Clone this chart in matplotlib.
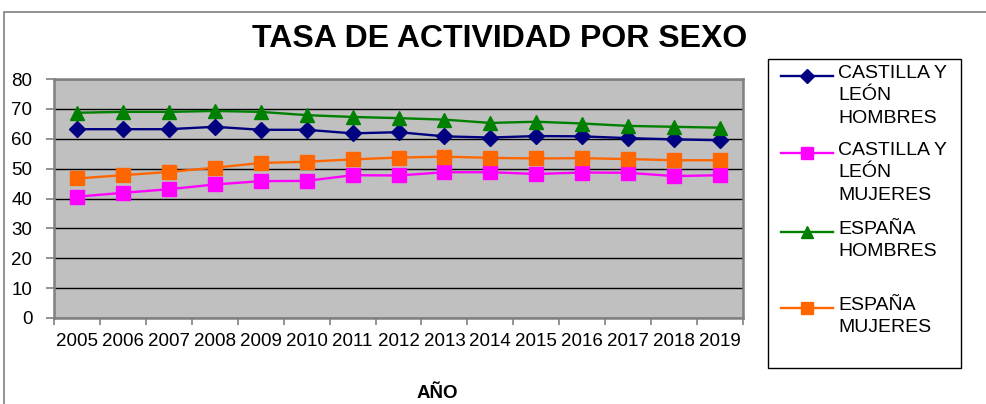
import matplotlib
matplotlib.use("Agg")
import matplotlib.pyplot as plt
from matplotlib.patches import Rectangle
from matplotlib.lines import Line2D
import numpy as np

years = ["2005", "2006", "2007", "2008", "2009", "2010", "2011", "2012",
         "2013", "2014", "2015", "2016", "2017", "2018", "2019"]
cyl_hombres = [63.2, 63.2, 63.2, 64.0, 63.0, 63.0, 61.8, 62.2, 60.8, 60.4, 60.9, 60.8, 60.2, 59.8, 59.5]
cyl_mujeres = [40.6, 41.9, 43.1, 44.7, 45.8, 45.9, 47.8, 47.7, 48.8, 48.8, 48.2, 48.7, 48.6, 47.5, 47.8]
esp_hombres = [68.7, 69.0, 69.0, 69.3, 69.0, 67.9, 67.3, 66.9, 66.4, 65.3, 65.7, 65.1, 64.3, 64.0, 63.7]
esp_mujeres = [46.7, 47.8, 48.9, 50.3, 51.9, 52.3, 53.1, 53.7, 54.0, 53.6, 53.4, 53.5, 53.2, 52.8, 52.8]

series_labels = ["CASTILLA Y\nLEÓN\nHOMBRES", "CASTILLA Y\nLEÓN\nMUJERES",
                 "ESPAÑA\nHOMBRES", "ESPAÑA\nMUJERES"]
colors = ["#000080", "#FF00FF", "#008000", "#FF6600"]
markers = ["D", "s", "^", "s"]
msizes = [8.5, 10, 10.5, 10]

plt.rcParams['font.family'] = ['Liberation Sans', 'DejaVu Sans']

W, H = 986, 404
fig = plt.figure(figsize=(W / 100, H / 100), dpi=100)

def fx(px):
    return px / W

def fy(py):
    return 1 - py / H

# outer border
fig.add_artist(Rectangle((fx(4), fy(420)), fx(1000) - fx(4), fy(12) - fy(420),
                         transform=fig.transFigure, fill=False,
                         edgecolor="#808080", linewidth=1.2))

left, right, top, bottom = 54, 743, 79, 318
ax = fig.add_axes([fx(left), fy(bottom), fx(right) - fx(left), fy(top) - fy(bottom)])
ax.set_facecolor("#C0C0C0")

x = np.arange(len(years))
all_series = [cyl_hombres, cyl_mujeres, esp_hombres, esp_mujeres]
for vals, c, m, ms in zip(all_series, colors, markers, msizes):
    ax.plot(x, vals, color=c, marker=m, markersize=ms, linewidth=1.7,
            markeredgecolor=c, zorder=3, clip_on=False)

ax.set_xlim(-0.5, len(years) - 0.5)
ax.set_ylim(0, 80)
ax.set_yticks(np.arange(0, 81, 10))
ax.yaxis.grid(True, color="black", linewidth=1.0)
ax.set_axisbelow(True)
ax.set_xticks(x)
ax.set_xticklabels(years, fontsize=13.5)
ax.set_xticks(np.arange(-0.5, len(years), 1), minor=True)
ax.tick_params(axis='x', which='major', length=0, pad=11)
ax.tick_params(axis='x', which='minor', length=5, width=1.2, color="#808080")
ax.tick_params(axis='y', length=6, width=1.2, color="#808080", labelsize=13.5, pad=9.5)
for s in ax.spines.values():
    s.set_color("#808080")
    s.set_linewidth(1.8)

fig.text(fx(500), fy(39), "TASA DE ACTIVIDAD POR SEXO", ha='center', va='center',
         fontsize=23, fontweight='bold')
fig.text(fx(437), fy(393), "AÑO", ha='center', va='center', fontsize=13.5, fontweight='bold')

# legend box (manual)
fig.add_artist(Rectangle((fx(768), fy(368)), fx(961) - fx(768), fy(59) - fy(368),
                         transform=fig.transFigure, fill=False,
                         edgecolor="black", linewidth=1.0))
entry_y = [76, 153, 232, 308]
for lab, c, m, ms, ey in zip(series_labels, colors, markers, msizes, entry_y):
    fig.add_artist(Line2D([fx(781), fx(833)], [fy(ey), fy(ey)], transform=fig.transFigure,
                          color=c, linewidth=1.7))
    fig.add_artist(Line2D([fx(807)], [fy(ey)], transform=fig.transFigure,
                          color=c, marker=m, markersize=ms * 0.8, markeredgecolor=c))
    fig.text(fx(838), fy(ey - 11), lab, ha='left', va='top', fontsize=14,
             linespacing=1.42)

fig.savefig("out.png", dpi=100)
